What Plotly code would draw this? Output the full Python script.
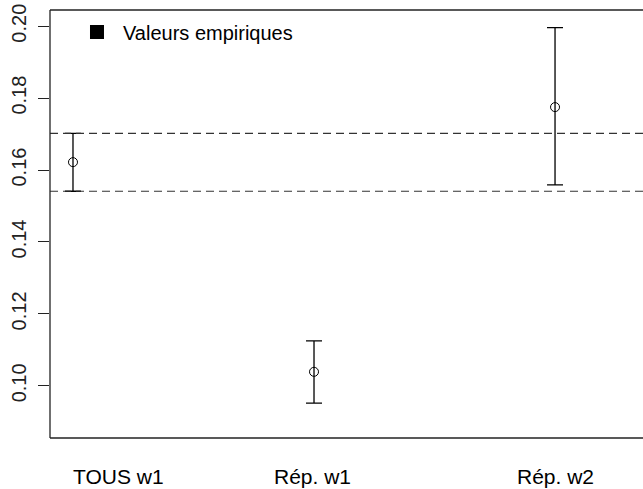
import plotly.graph_objects as go

# Empirical values with their confidence bounds
categories = ["TOUS w1", "Rép. w1", "Rép. w2"]
x_pos = [1, 2, 3]
label_pos = [1.187, 1.995, 3.0]
values = [0.1622, 0.1039, 0.1775]
lower = [0.1541, 0.0952, 0.1559]
upper = [0.1702, 0.1125, 0.1996]
y_ticks = [0.10, 0.12, 0.14, 0.16, 0.18, 0.20]

FONT = "Liberation Sans, Arial, sans-serif"
INK = "#222222"

fig = go.Figure()

fig.add_trace(go.Scatter(
    x=x_pos, y=values, mode="markers", showlegend=False,
    marker=dict(symbol="circle-open", size=9, color="black", line=dict(width=1)),
    error_y=dict(type="data", symmetric=False,
                 array=[u - v for u, v in zip(upper, values)],
                 arrayminus=[v - l for v, l in zip(values, lower)],
                 color="black", thickness=1.3, width=8),
))

# legend entry
fig.add_trace(go.Scatter(
    x=[None], y=[None], mode="markers", name="Valeurs empiriques",
    marker=dict(symbol="square", size=14, color="black"),
))

# reference band taken from the first category's bounds
for yv in (lower[0], upper[0]):
    fig.add_shape(type="line", xref="paper", yref="y", x0=0, x1=1, y0=yv, y1=yv,
                  line=dict(color="#333333", width=1.2, dash="8px,5px"))

# box (left, bottom, top)
for kw in (dict(x0=0, x1=0, y0=0, y1=1), dict(x0=0, x1=1, y0=0, y1=0),
           dict(x0=0, x1=1, y0=1, y1=1)):
    fig.add_shape(type="line", xref="paper", yref="paper",
                  line=dict(color=INK, width=1.3), **kw)

for lab, xp in zip(categories, label_pos):
    fig.add_annotation(x=xp, y=0, xref="x", yref="paper", yshift=-38,
                       text=lab, showarrow=False, yanchor="middle",
                       font=dict(family=FONT, size=21, color="black"))

fig.update_layout(
    width=643, height=489,
    margin=dict(l=50, r=0, t=9.5, b=51),
    paper_bgcolor="white", plot_bgcolor="white",
    font=dict(family=FONT, size=20, color="black"),
    xaxis=dict(range=[0.9046, 3.365], showgrid=False, zeroline=False,
               showticklabels=False, ticks=""),
    yaxis=dict(range=[0.0855, 0.2045], showgrid=False, zeroline=False,
               tickvals=y_ticks, ticktext=[f"{v:.2f}" for v in y_ticks],
               ticks="outside", ticklen=11, tickcolor=INK, tickwidth=1.3,
               tickangle=-90, ticklabelstandoff=4,
               tickfont=dict(family=FONT, size=20, color="#222222")),
    legend=dict(x=0.0354, y=0.994, xanchor="left", yanchor="top",
                bgcolor="rgba(0,0,0,0)", font=dict(family=FONT, size=20),
                itemwidth=42),
)

fig.write_html("out.html")
